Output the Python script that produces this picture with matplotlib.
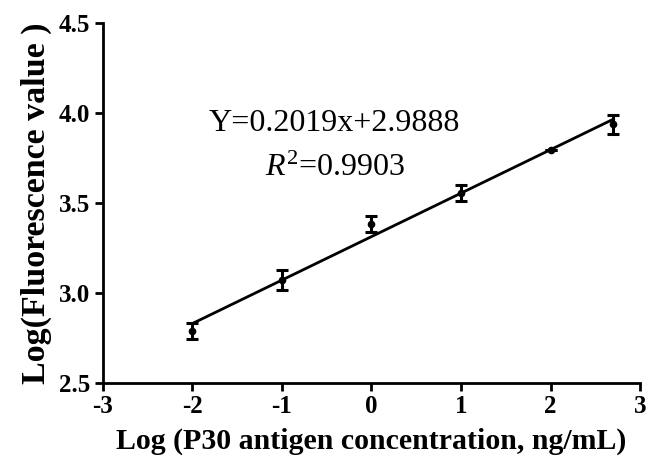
import numpy as np
import matplotlib
matplotlib.use("Agg")
import matplotlib.pyplot as plt

# data
log_conc = [-2.0, -1.0, 0.0, 1.0, 2.0, 2.7]
log_fluo = [2.789, 3.072, 3.383, 3.554, 3.794, 3.937]
fluo_err = [0.046, 0.056, 0.042, 0.045, 0.0, 0.053]

eq_text = "Y=0.2019x+2.9888"
r2_text = r"$R^2$=0.9903"

plt.rcParams['font.family'] = ['Liberation Serif', 'DejaVu Serif']
plt.rcParams['mathtext.fontset'] = 'custom'
plt.rcParams['mathtext.rm'] = 'Liberation Serif'
plt.rcParams['mathtext.it'] = 'Liberation Serif:italic'
plt.rcParams['axes.unicode_minus'] = False

fig = plt.figure(figsize=(6.54, 4.67), dpi=100)
ax = fig.add_axes([0.157, 0.180, 0.822, 0.771])

# fitted line
p = np.polyfit(log_conc, log_fluo, 1)
xl = np.array([log_conc[0], log_conc[-1]])
ax.plot(xl, np.polyval(p, xl), color="black", lw=2.0, zorder=2)

ax.errorbar(log_conc, log_fluo, yerr=fluo_err, fmt="o", color="black",
            ms=4.5, elinewidth=2.2, capsize=4, capthick=2.2, zorder=3)

ax.text(-0.41, 3.94, eq_text, ha="center", va="center", fontsize=23)
ax.text(-0.41, 3.69, r2_text, ha="center", va="center", fontsize=23)

ax.set_xlim(-3, 3)
ax.set_ylim(2.5, 4.5)
ax.set_xticks([-3, -2, -1, 0, 1, 2, 3])
ax.set_yticks([2.5, 3.0, 3.5, 4.0, 4.5])
ax.set_yticklabels(["2.5", "3.0", "3.5", "4.0", "4.5"])

for s in ["top", "right"]:
    ax.spines[s].set_visible(False)
for s in ["left", "bottom"]:
    ax.spines[s].set_linewidth(2.0)

ax.tick_params(direction="out", length=6, width=2.0, labelsize=18, pad=3)
for lab in ax.get_xticklabels() + ax.get_yticklabels():
    lab.set_fontweight("bold")

ax.set_xlabel("Log (P30 antigen concentration, ng/mL)", fontsize=21.5,
              fontweight="bold", labelpad=7)
ax.set_ylabel("Log(Fluorescence value )", fontsize=24.5,
              fontweight="bold", labelpad=5)

fig.savefig("out.png", dpi=100)
